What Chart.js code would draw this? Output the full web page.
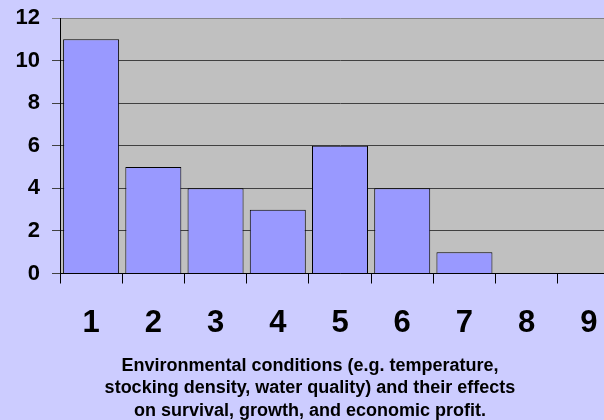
<!DOCTYPE html>
<html>
<head>
<meta charset="utf-8">
<script src="https://cdn.jsdelivr.net/npm/chart.js@4"></script>
<style>
  html, body { margin: 0; padding: 0; background: #CCCCFF; overflow: hidden; width: 604px; height: 420px; }
  #wrap { position: absolute; left: 0; top: 0; }
</style>
</head>
<body>
<div id="wrap"><canvas id="myChart" width="620" height="420"></canvas></div>
<script>
const CATEGORIES = ['1', '2', '3', '4', '5', '6', '7', '8', '9'];
const COUNTS = [11, 5, 4, 3, 6, 4, 1, 0, 0];
const Y_MIN = 0;
const Y_MAX = 12;
const Y_STEP = 2;
const AXIS_TITLE = [
  'Environmental conditions (e.g. temperature,',
  'stocking density, water quality) and their effects',
  'on survival, growth, and economic profit.'
];

const FONT = "'Liberation Sans', Arial, sans-serif";

// gray plot area behind the bars
const plotBackground = {
  id: 'plotBackground',
  beforeDraw(chart) {
    const {ctx, chartArea: a} = chart;
    ctx.save();
    ctx.fillStyle = '#C0C0C0';
    ctx.fillRect(a.left, a.top, a.right - a.left, a.bottom - a.top);
    ctx.restore();
  }
};

const MY_CHART = document.querySelector('#myChart');

const data = {
  labels: CATEGORIES,
  datasets: [{
    data: COUNTS,
    backgroundColor: '#9999FF',
    borderColor: '#000000',
    borderWidth: 1,
    barPercentage: 0.9,
    categoryPercentage: 1.0
  }]
};

const CONFIG = {
  type: 'bar',
  data: data,
  plugins: [plotBackground],
  options: {
    responsive: false,
    animation: false,
    layout: { padding: { top: 18, right: 0, bottom: 0, left: 0 } },
    plugins: {
      legend: { display: false },
      tooltip: { enabled: false },
      title: {
        display: true,
        position: 'bottom',
        text: AXIS_TITLE,
        color: '#000000',
        font: { family: FONT, size: 18, weight: 'bold', lineHeight: 1.25 },
        padding: { top: 13, bottom: -2 }
      }
    },
    scales: {
      x: {
        offset: true,
        afterFit(scale) {
          scale.height = 68;
          scale.paddingLeft = 0;
          scale.paddingRight = 0;
        },
        grid: {
          offset: true,
          drawOnChartArea: false,
          drawTicks: true,
          tickLength: 10,
          color: '#000000'
        },
        border: { display: true, color: '#000000', width: 1 },
        ticks: {
          padding: 21,
          color: '#000000',
          font: { family: FONT, size: 31, weight: 'bold' }
        }
      },
      y: {
        min: Y_MIN,
        max: Y_MAX,
        afterFit(scale) {
          scale.width = 60;
          scale.paddingTop = 0;
          scale.paddingBottom = 0;
        },
        grid: {
          tickLength: 8,
          color(c) {
            if (c.tick && c.tick.value === Y_MAX) return '#808080';
            return '#404040';
          }
        },
        border: { display: true, color: '#000000', width: 1 },
        ticks: {
          stepSize: Y_STEP,
          padding: 12,
          color: '#000000',
          font: { family: FONT, size: 22, weight: 'bold' }
        }
      }
    }
  }
};

const chart = new Chart(MY_CHART, CONFIG);
</script>
</body>
</html>
